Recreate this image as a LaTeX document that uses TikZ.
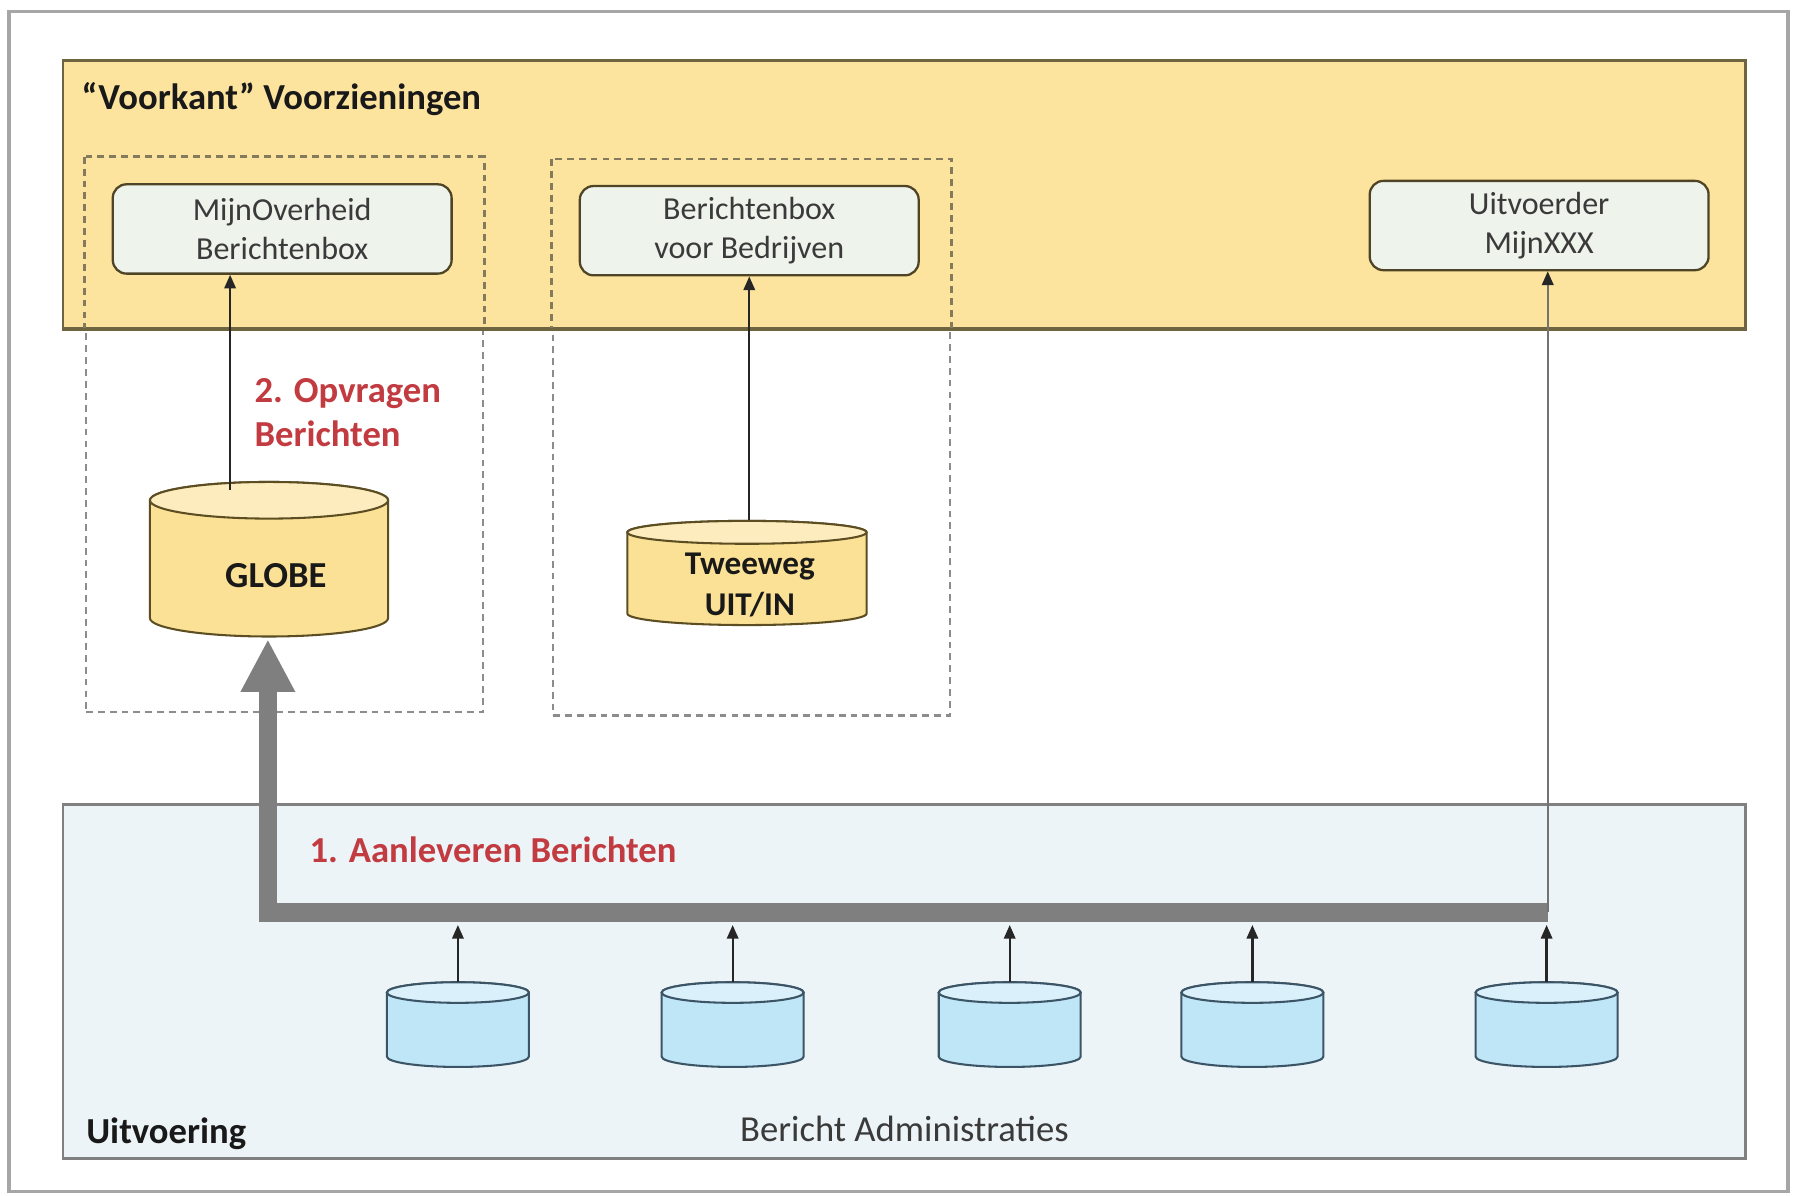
\documentclass[tikz,border=0pt]{standalone}
\usepackage{fontspec}
\setmainfont{Carlito}
\usetikzlibrary{arrows.meta}
\definecolor{yelfill}{HTML}{FCE49E}
\definecolor{yelline}{HTML}{6E6440}
\definecolor{bluefill}{HTML}{ECF4F7}
\definecolor{boxfill}{HTML}{EEF3EC}
\definecolor{boxline}{HTML}{4F4526}
\definecolor{redtxt}{HTML}{C23B40}
\definecolor{dbbody}{HTML}{BFE6F7}
\definecolor{dbtop}{HTML}{DAF1FB}
\definecolor{dbline}{HTML}{3C5566}
\definecolor{glbody}{HTML}{FBE195}
\definecolor{gltop}{HTML}{FDEDBE}
\definecolor{glline}{HTML}{5C4E22}
\definecolor{thickgray}{HTML}{7F7F80}
\definecolor{txtgray}{HTML}{3A3A3A}
% #1 name, #2 cx, #3 ytop, #4 ybot, #5 half width, #6 ellipse ry, #7 body, #8 top, #9 line
\newcommand{\dbcyl}[9]{%
  \path[fill=#7, draw=#9, line width=0.9pt]
    ({#2-#5},{-#3-#6}) -- ({#2-#5},{-#4+#6})
    arc[start angle=180, end angle=360, x radius=#5, y radius=#6]
    -- ({#2+#5},{-#3-#6})
    arc[start angle=0, end angle=180, x radius=#5, y radius=#6] -- cycle;
  \path[fill=#8, draw=#9, line width=0.9pt] (#2,{-#3-#6}) ellipse[x radius=#5, y radius=#6];
  \node[inner sep=0pt, minimum width={#5*1pt}, minimum height={(#4-#3)*0.5pt}] (#1) at (#2,{-(#3+#4)/2}) {};
}
\begin{document}
\begin{tikzpicture}[x=0.5pt, y=0.5pt,
  bigbox/.style={draw, rectangle, inner sep=0pt},
  dashbox/.style={draw=#1, line width=1.1pt, dash pattern=on 3pt off 2.2pt},
  rbox/.style={draw=boxline, fill=boxfill, line width=1pt, rounded corners=6pt,
    inner sep=0pt, minimum width=148pt, minimum height=39pt, align=center,
    text=txtgray, font=\fontsize{14}{17}\selectfont},
  arr/.style={draw=black!85, line width=1pt, -{Triangle[length=6pt, width=5pt]}},
  grayarr/.style={draw=black!55, line width=1pt, -{Triangle[length=6pt, width=5pt, color=black!85]}},
  thickarr/.style={draw=thickgray, line width=8pt, line join=miter,
    -{Triangle[length=22.5pt, width=24pt, line width=0pt]}},
  boldlbl/.style={inner sep=0pt, text=black!90, font=\fontsize{16}{19.5}\selectfont\bfseries},
  redlbl/.style={inner sep=0pt, text=redtxt, font=\fontsize{16}{19.5}\selectfont\bfseries},
  reglbl/.style={inner sep=0pt, text=txtgray, font=\fontsize{16}{19.5}\selectfont}
]
\useasboundingbox (0,0) rectangle (1568,-1044.7);
\fill[white] (0,0) rectangle (1568,-1044.7);
% outer frame
\node[draw=black!35, line width=1.5pt, inner sep=0pt, minimum width=777pt, minimum height=515.5pt] (frame) at (785,-525.5) {};
% bottom area
\node[bigbox, draw=black!50, fill=bluefill, line width=1.2pt, minimum width=735pt, minimum height=154.5pt] (uitv) at (790,-857.5) {};
% dashed groups (grey part)
\node[dashbox=black!45, inner sep=0pt, minimum width=173.5pt, minimum height=242pt] (grp1) at (248.5,-380) {};
\node[dashbox=black!45, inner sep=0pt, minimum width=173.5pt, minimum height=242.5pt] (grp2) at (656.5,-382.5) {};
% yellow area
\node[bigbox, draw=yelline, fill=yelfill, line width=1.2pt, minimum width=735pt, minimum height=117pt] (voork) at (790,-170) {};
\begin{scope}
  \clip (55,-53) rectangle (1525,-286);
  \draw[dashbox=yelline!85] (grp1.north west) rectangle (grp1.south east);
  \draw[dashbox=yelline!85] (grp2.north west) rectangle (grp2.south east);
\end{scope}
\draw[yelline, line width=1.2pt] (voork.south west) -- (voork.south east);
% front-end boxes
\node[rbox] (mob) at (246.5,-200) {MijnOverheid\\Berichtenbox};
\node[rbox] (bvb) at (654.5,-201.5) {Berichtenbox\\voor Bedrijven};
\node[rbox] (mx) at (1344.5,-197) {Uitvoerder\\MijnXXX};
% cylinders
\dbcyl{globe}{235}{421}{556}{104}{16}{glbody}{gltop}{glline}
\dbcyl{tw}{652.5}{455}{546}{104.5}{10}{glbody}{gltop}{glline}
\dbcyl{db1}{400}{858}{932}{62}{9}{dbbody}{dbtop}{dbline}
\dbcyl{db2}{640}{858}{932}{62}{9}{dbbody}{dbtop}{dbline}
\dbcyl{db3}{882}{858}{932}{62}{9}{dbbody}{dbtop}{dbline}
\dbcyl{db4}{1094}{858}{932}{62}{9}{dbbody}{dbtop}{dbline}
\dbcyl{db5}{1351}{858}{932}{62}{9}{dbbody}{dbtop}{dbline}
% texts
\node[boldlbl, anchor=base west] (tvoork) at (71,-96) {“Voorkant” Voorzieningen};
\node[boldlbl] (tglobe) at (241,-503) {GLOBE};
\node[boldlbl, align=center, font=\fontsize{14.5}{17.5}\selectfont\bfseries] (ttw) at (655,-511) {Tweeweg\\UIT/IN};
\node[redlbl, align=left, anchor=north west] (topv) at (222,-330) {2. Opvragen\\Berichten};
\node[redlbl, anchor=base west] (taanl) at (270,-753) {1. Aanleveren Berichten};
\node[boldlbl, anchor=base west] (tuitv) at (75,-999) {Uitvoering};
\node[reglbl, anchor=base] (tadm) at (790,-997) {Bericht Administraties};
% connectors
\coordinate (g1) at (201,-428);
\draw[arr] (g1) -- (g1 |- mob.south);
\draw[arr] (bvb.south |- tw.north) -- (bvb.south);
\coordinate (junc) at (1352,-797);
\coordinate (corner) at (234,-797);
\draw[thickarr, shorten >=1.5pt] (junc) -- (corner) -- (corner |- globe.south);
\draw[grayarr] (junc) -- (junc |- mx.south);
\coordinate (bar) at (0,-808);
\draw[arr] (db1.north) -- (db1.north |- bar);
\draw[arr] (db2.north) -- (db2.north |- bar);
\draw[arr] (db3.north) -- (db3.north |- bar);
\draw[arr] (db4.north) -- (db4.north |- bar);
\draw[arr] (db5.north) -- (db5.north |- bar);
\end{tikzpicture}
\end{document}
